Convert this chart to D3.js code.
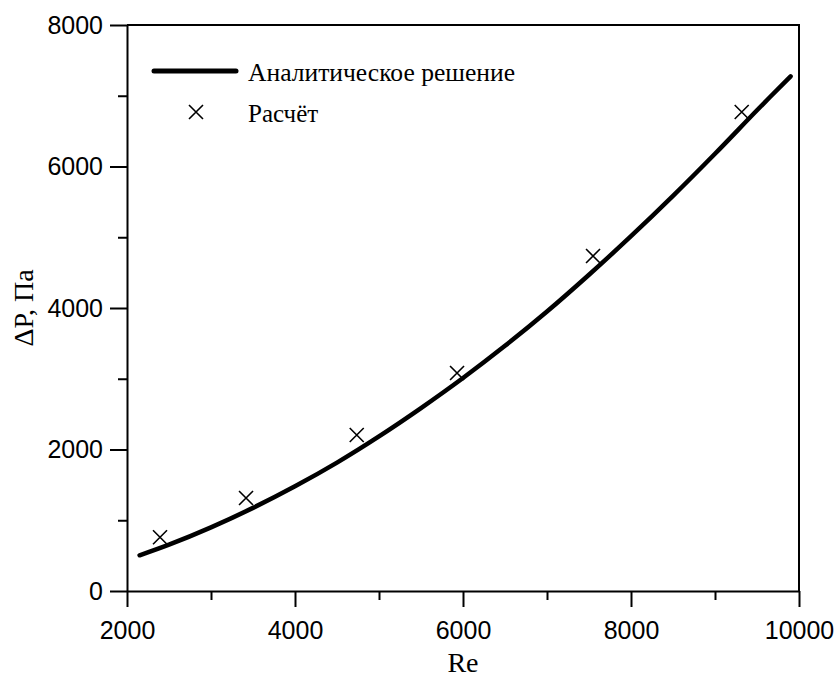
<!DOCTYPE html>
<html>
<head>
<meta charset="utf-8">
<script src="https://cdn.jsdelivr.net/npm/d3@7"></script>
<style>
  html, body { margin: 0; padding: 0; background: #fff; }
  svg { display: block; }
</style>
</head>
<body>
<svg id="chart" width="836" height="680"></svg>
<script>
// Analytical solution curve: Reynolds number and pressure drop, Pa
const curveRe = [2150, 2500, 3000, 3500, 4000, 4500, 5000, 5500, 6000, 6500, 7000, 7500, 8000, 8500, 9000, 9500, 9900];
const curveDP = [505, 655, 900, 1175, 1480, 1815, 2185, 2585, 3010, 3465, 3950, 4470, 5015, 5585, 6180, 6795, 7275];

// Computed points
const calcRe = [2393, 3417, 4735, 5929, 7548, 9318];
const calcDP = [760, 1314, 2205, 3081, 4735, 6770];

// Axis ticks
const xTicks = [2000, 4000, 6000, 8000, 10000];
const xMinor = [3000, 5000, 7000, 9000];
const yTicks = [0, 2000, 4000, 6000, 8000];
const yMinor = [1000, 3000, 5000, 7000];

const legendLabels = ["Аналитическое решение", "Расчёт"];
const xTitle = "Re";
const yTitle = "ΔP, Па";

const margin = { left: 127, top: 25, right: 37, bottom: 89 };
const W = 836, H = 680;
const iw = W - margin.left - margin.right;
const ih = H - margin.top - margin.bottom;

const svg = d3.select("#chart");
const g = svg.append("g").attr("transform", `translate(${margin.left},${margin.top})`);

const x = d3.scaleLinear().domain([2000, 10000]).range([0, iw]);
const y = d3.scaleLinear().domain([0, 8000]).range([ih, 0]);

const sansFont = "'Liberation Sans', Arial, sans-serif";
const serifFont = "'Liberation Serif', 'Times New Roman', serif";

// Frame (top and right sides, no ticks)
g.append("path")
  .attr("d", `M0,0H${iw}V${ih}`)
  .attr("fill", "none").attr("stroke", "#000").attr("stroke-width", 2);

// Bottom axis: major ticks with labels
g.append("g").attr("transform", `translate(0,${ih})`)
  .call(d3.axisBottom(x).tickValues(xTicks).tickFormat(d3.format("d")).tickSize(16).tickSizeOuter(0).tickPadding(14));
// Bottom axis: minor ticks
g.append("g").attr("transform", `translate(0,${ih})`)
  .call(d3.axisBottom(x).tickValues(xMinor).tickFormat("").tickSize(9).tickSizeOuter(0))
  .select(".domain").remove();

// Left axis: major ticks with labels
g.append("g")
  .call(d3.axisLeft(y).tickValues(yTicks).tickFormat(d3.format("d")).tickSize(17).tickSizeOuter(0).tickPadding(7));
g.append("g")
  .call(d3.axisLeft(y).tickValues(yMinor).tickFormat("").tickSize(9).tickSizeOuter(0))
  .select(".domain").remove();

g.selectAll(".domain").attr("stroke-width", 2);
g.selectAll(".tick line").attr("stroke-width", 2);
g.selectAll(".tick text")
  .attr("font-family", sansFont).attr("font-size", 25).attr("fill", "#000");

// Analytical curve
const pts = curveRe.map((r, i) => [r, curveDP[i]]);
g.append("path")
  .datum(pts)
  .attr("fill", "none").attr("stroke", "#000").attr("stroke-width", 4.5)
  .attr("stroke-linecap", "round")
  .attr("d", d3.line().x(d => x(d[0])).y(d => y(d[1])).curve(d3.curveCatmullRom.alpha(0.5)));

// Cross markers
const crossPath = s => `M${-s},${-s}L${s},${s}M${-s},${s}L${s},${-s}`;
g.selectAll(".calc")
  .data(calcRe.map((r, i) => [r, calcDP[i]]))
  .join("path")
  .attr("class", "calc")
  .attr("transform", d => `translate(${x(d[0])},${y(d[1])})`)
  .attr("d", crossPath(7))
  .attr("fill", "none").attr("stroke", "#000").attr("stroke-width", 1.6);

// Legend
const leg = svg.append("g");
leg.append("line")
  .attr("x1", 154).attr("x2", 236).attr("y1", 71).attr("y2", 71)
  .attr("stroke", "#000").attr("stroke-width", 5).attr("stroke-linecap", "round");
leg.append("text")
  .attr("x", 248).attr("y", 81)
  .attr("font-family", serifFont).attr("font-size", 25).attr("fill", "#000")
  .attr("textLength", 267).attr("lengthAdjust", "spacingAndGlyphs")
  .text(legendLabels[0]);
leg.append("path")
  .attr("transform", "translate(196,112)")
  .attr("d", crossPath(7))
  .attr("fill", "none").attr("stroke", "#000").attr("stroke-width", 1.6);
leg.append("text")
  .attr("x", 248).attr("y", 122)
  .attr("font-family", serifFont).attr("font-size", 25).attr("fill", "#000")
  .text(legendLabels[1]);

// Axis titles
svg.append("text")
  .attr("x", margin.left + iw / 2).attr("y", 672)
  .attr("text-anchor", "middle")
  .attr("font-family", serifFont).attr("font-size", 28).attr("fill", "#000")
  .text(xTitle);
svg.append("text")
  .attr("transform", `translate(33,${margin.top + ih / 2}) rotate(-90)`)
  .attr("text-anchor", "middle")
  .attr("font-family", serifFont).attr("font-size", 28).attr("fill", "#000")
  .text(yTitle);
</script>
</body>
</html>
